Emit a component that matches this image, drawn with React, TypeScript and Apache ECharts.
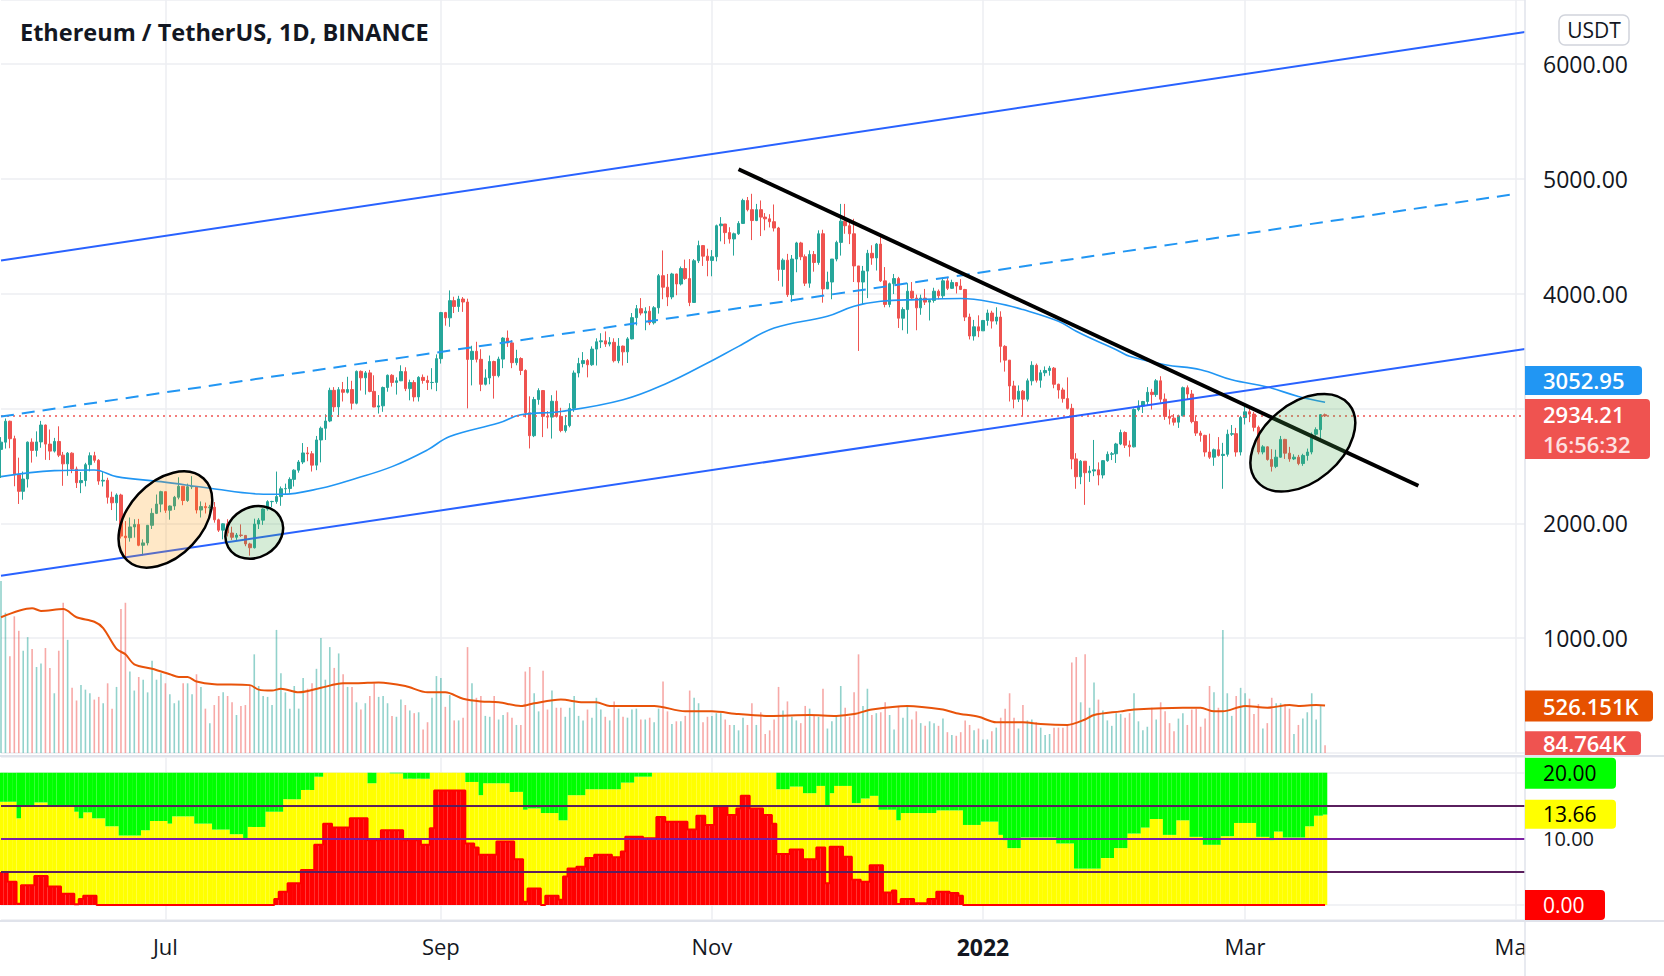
import React, { useEffect, useRef } from 'react';
import * as echarts from 'echarts';

// ---------- categories ----------
const START_UTC = Date.UTC(2021, 4, 25);
const CATEGORY_COUNT = 344; // May 25 2021 .. May 3 2022 (empty future on the right)
const MONTHS = ['Jan', 'Feb', 'Mar', 'Apr', 'May', 'Jun', 'Jul', 'Aug', 'Sep', 'Oct', 'Nov', 'Dec'];

// ---------- price data (ETH/USDT daily) ----------
const firstOpen = 2643;
const closes = [
  2706, 2888, 2736, 2422, 2278, 2385, 2706,
  2634, 2708, 2855, 2689, 2628, 2712, 2593, 2517, 2610, 2472, 2353, 2372, 2510, 2588, 2548, 2367, 2374, 2226, 2178, 2246, 1888, 1874, 1968, 1989, 1808, 1829, 1982, 2086, 2167, 2275,
  2113, 2150, 2226, 2322, 2198, 2318, 2320, 2115, 2145, 2135, 2140, 2030, 1940, 1995, 1915, 1878, 1897, 1894, 1820, 1787, 1993, 2027, 2124, 2188, 2190, 2232, 2300, 2302, 2382, 2462, 2533,
  2612, 2605, 2506, 2725, 2827, 2890, 3157, 3013, 3163, 3140, 3164, 3045, 3322, 3266, 3309, 3148, 3012, 3022, 3182, 3288, 3226, 3240, 3320, 3172, 3225, 3100, 3270, 3243, 3225, 3226, 3433,
  3834, 3788, 3938, 3887, 3952, 3926, 3426, 3497, 3427, 3210, 3265, 3408, 3285, 3429, 3612, 3570, 3398, 3434, 3330, 2962, 2762, 3077, 3155, 2931, 2924, 3062, 2930, 2807, 2850, 3000,
  3308, 3390, 3416, 3380, 3516, 3580, 3588, 3560, 3575, 3415, 3542, 3492, 3605, 3790, 3868, 3830, 3846, 3745, 3876, 4155, 4055, 3970, 4170, 4083, 4217, 4130, 3922, 4285, 4417, 4325, 4288,
  4320, 4590, 4605, 4530, 4475, 4520, 4610, 4810, 4730, 4635, 4730, 4665, 4650, 4625, 4570, 4210, 4290, 3990, 4300, 4440, 4320, 4090, 4340, 4270, 4520, 4040, 4100, 4300, 4445, 4630,
  4590, 4520, 4240, 4100, 4195, 4350, 4310, 4430, 4110, 3905, 4085, 4130, 3785, 3860, 4020, 3960, 3875, 3960, 3925, 3940, 4020, 3980, 4110, 4045, 4095, 4065, 4035, 3795, 3630, 3710, 3675,
  3765, 3830, 3760, 3795, 3540, 3420, 3195, 3080, 3150, 3080, 3240, 3375, 3245, 3310, 3330, 3350, 3210, 3160, 3085, 3000, 2560, 2405, 2540, 2440, 2455, 2465, 2420, 2545, 2600, 2605, 2690,
  2790, 2680, 2665, 2990, 3020, 3060, 3140, 3120, 3240, 3080, 2930, 2915, 2880, 2935, 3180, 3125, 2885, 2785, 2765, 2620, 2575, 2640, 2590, 2600, 2775, 2780, 2620, 2920,
  2970, 2950, 2835, 2620, 2665, 2555, 2495, 2575, 2730, 2610, 2560, 2575, 2520, 2590, 2620, 2775, 2815, 2945, 2934.21,
];
const highs = [
  2750, 2912, 2893, 2762, 2571, 2450, 2712,
  2739, 2800, 2891, 2859, 2816, 2743, 2844, 2621, 2620, 2618, 2493, 2446, 2526, 2617, 2622, 2558, 2445, 2396, 2275, 2260, 2257, 2019, 2050, 2035, 2038, 1860, 1985, 2130, 2250, 2283,
  2275, 2155, 2238, 2400, 2322, 2345, 2410, 2321, 2190, 2180, 2160, 2185, 2040, 2000, 2035, 1970, 1915, 1990, 1898, 1830, 2040, 2045, 2130, 2200, 2195, 2450, 2320, 2345, 2400, 2470, 2550,
  2698, 2664, 2628, 2760, 2842, 2948, 3180, 3185, 3185, 3230, 3275, 3240, 3330, 3330, 3325, 3335, 3288, 3116, 3190, 3295, 3298, 3270, 3375, 3358, 3250, 3245, 3280, 3295, 3285, 3350, 3470,
  3840, 3840, 4027, 3972, 3980, 3969, 3955, 3545, 3580, 3515, 3340, 3460, 3415, 3450, 3620, 3678, 3594, 3510, 3445, 3340, 3105, 3100, 3175, 3160, 2976, 3115, 3155, 3005, 2940, 3045,
  3330, 3440, 3490, 3430, 3540, 3610, 3654, 3670, 3620, 3610, 3612, 3547, 3620, 3830, 3900, 3960, 3880, 3890, 3890, 4170, 4375, 4170, 4180, 4172, 4235, 4295, 4300, 4300, 4460, 4420, 4390,
  4378, 4600, 4665, 4605, 4577, 4530, 4630, 4825, 4840, 4868, 4780, 4810, 4700, 4690, 4775, 4580, 4305, 4345, 4335, 4450, 4450, 4340, 4375, 4370, 4550, 4555, 4190, 4300, 4460, 4780,
  4780, 4635, 4650, 4240, 4240, 4380, 4420, 4440, 4490, 4230, 4095, 4170, 4145, 3880, 4090, 4100, 3990, 3990, 4040, 3950, 4050, 4035, 4140, 4145, 4120, 4100, 4125, 4040, 3825, 3770, 3810,
  3770, 3860, 3850, 3880, 3845, 3550, 3420, 3240, 3200, 3160, 3260, 3410, 3390, 3335, 3365, 3370, 3360, 3215, 3180, 3270, 3040, 2610, 2550, 2540, 2500, 2725, 2530, 2550, 2625, 2620, 2700,
  2815, 2800, 2720, 3000, 3070, 3065, 3185, 3170, 3255, 3280, 3130, 2990, 2950, 2945, 3190, 3200, 3160, 2930, 2805, 2770, 2780, 2650, 2750, 2700, 2815, 2855, 2830, 2935,
  3040, 3000, 2970, 2850, 2680, 2670, 2645, 2640, 2760, 2735, 2665, 2600, 2595, 2605, 2650, 2790, 2835, 2950, 2955,
];
const lows = [
  2394, 2650, 2653, 2322, 2168, 2205, 2311,
  2528, 2580, 2657, 2552, 2550, 2616, 2576, 2326, 2413, 2436, 2307, 2262, 2321, 2452, 2527, 2335, 2320, 2171, 2115, 2022, 1867, 1700, 1840, 1875, 1800, 1720, 1807, 1950, 2080, 2096,
  2090, 2031, 2116, 2208, 2157, 2186, 2297, 2085, 2050, 2085, 2090, 2005, 1924, 1860, 1885, 1855, 1855, 1880, 1800, 1718, 1780, 1950, 1986, 2110, 2140, 2170, 2152, 2255, 2265, 2320, 2440,
  2515, 2540, 2450, 2462, 2530, 2725, 2880, 2970, 2925, 3060, 3130, 2990, 3035, 3155, 3120, 3140, 3010, 2955, 2970, 3145, 3190, 3120, 3237, 3150, 3070, 3060, 3060, 3215, 3160, 3166, 3150,
  3390, 3720, 3710, 3830, 3840, 3840, 3000, 3200, 3400, 3150, 3200, 3210, 3085, 3270, 3350, 3535, 3350, 3375, 3290, 2920, 2651, 2750, 3032, 2750, 2825, 2737, 2920, 2792, 2790, 2835,
  2970, 3270, 3357, 3270, 3370, 3373, 3525, 3535, 3540, 3400, 3393, 3373, 3395, 3600, 3722, 3810, 3680, 3725, 3730, 3825, 3950, 3890, 3950, 3985, 4070, 4118, 3890, 3920, 4265, 4240, 4150,
  4150, 4280, 4454, 4430, 4435, 4330, 4510, 4605, 4715, 4465, 4630, 4500, 4550, 4575, 4540, 4110, 4060, 3970, 3925, 4185, 4290, 4065, 4050, 4190, 4250, 3920, 4040, 3950, 4280, 4330,
  4520, 4430, 4100, 3500, 3900, 3960, 4250, 4200, 4100, 3880, 3880, 3995, 3700, 3680, 3650, 3950, 3680, 3815, 3900, 3765, 3920, 3950, 3960, 4030, 4040, 4000, 4030, 3760, 3600, 3590, 3620,
  3680, 3720, 3695, 3730, 3400, 3320, 3060, 3000, 3055, 2930, 3060, 3200, 3225, 3180, 3280, 3285, 3175, 3085, 3050, 2990, 2470, 2300, 2340, 2160, 2360, 2410, 2330, 2390, 2535, 2550, 2525,
  2680, 2655, 2580, 2660, 2975, 2960, 3030, 2990, 3100, 3050, 2900, 2860, 2850, 2830, 2930, 3080, 2870, 2760, 2710, 2580, 2560, 2500, 2580, 2300, 2580, 2760, 2580, 2590,
  2860, 2880, 2800, 2600, 2600, 2545, 2450, 2480, 2570, 2560, 2535, 2550, 2505, 2500, 2545, 2600, 2760, 2730, 2925,
];

// ---------- volume (thousand ETH) ----------
const volumesK = [
  1900, 1550, 1070, 1510, 1350, 1130, 1280, 1150, 950, 990,
  1160, 940, 660, 1130, 1660, 1250, 720, 580, 750, 700,
  660, 590, 620, 550, 770, 490, 730, 1590, 1660, 900,
  690, 840, 810, 670, 1020, 810, 880, 770, 650, 550,
  580, 770, 770, 650, 870, 730, 490, 330, 530, 630,
  670, 630, 560, 420, 520, 530, 740, 1090, 740, 630,
  620, 530, 1360, 880, 670, 490, 740, 490, 830, 710,
  770, 930, 1270, 810, 1170, 940, 1100, 870, 730, 730,
  560, 480, 550, 630, 770, 620, 630, 550, 410, 400,
  590, 530, 470, 440, 450, 260, 340, 610, 850, 830,
  510, 640, 360, 360, 390, 1170, 770, 610, 630, 410,
  400, 630, 370, 420, 450, 390, 310, 310, 900, 950,
  660, 460, 910, 480, 690, 500,
  500, 400, 500, 630, 410, 360, 480, 390, 610, 480,
  400, 360, 570, 490, 400, 390, 480, 490, 370, 370,
  390, 340, 490, 790, 460, 320, 350, 350, 410, 690,
  610, 550, 340, 400, 410, 440, 440, 370, 310, 310,
  250, 390, 310, 550, 310, 450, 210, 250, 370, 730,
  470, 570, 400, 360, 330, 520, 490, 420, 400, 710,
  270, 350, 400, 740, 500, 400, 670, 1090, 520, 710,
  420, 440, 450, 560, 420, 260, 520, 390, 530, 370,
  460, 330, 300, 350, 330, 300, 380, 230, 200, 190,
  230, 360, 310, 250, 270, 150, 150, 240, 280, 390,
  490, 660, 390, 270, 530, 360, 370, 340, 280, 200,
  210, 280, 280, 280, 310, 1000, 1060, 560, 1090, 500,
  780, 590, 470, 360, 300, 440,
  430, 390, 440, 660, 350, 250, 290, 500, 370, 560,
  460, 330, 240, 380, 440, 310, 480, 490, 290, 380,
  740, 670, 500, 1360, 660, 410, 630, 720, 660, 600,
  430, 540, 270, 330, 610, 550, 550, 540, 490, 210,
  310, 380, 450, 660, 370, 530, 84.764,
];
// volume moving average, read at sample days: [dayIndex, thousand ETH]
const volumeMaSamples: [number, number][] = [
  [0, 1500], [7, 1600], [9, 1570], [14, 1590], [17, 1500], [21, 1450], [23, 1380], [26, 1150], [28, 1090],
  [30, 980], [34, 930], [38, 870], [40, 840], [42, 840], [44, 790], [48, 760], [56, 750], [58, 700], [61, 690],
  [63, 710], [67, 670], [72, 720], [77, 770], [80, 770], [85, 780], [91, 740], [96, 670], [100, 670], [104, 600],
  [108, 570], [112, 560], [117, 520], [120, 550], [126, 590], [131, 560], [134, 560], [137, 520], [147, 520],
  [154, 460], [160, 460], [166, 430], [173, 410], [182, 420], [188, 410], [192, 430], [196, 480], [204, 520],
  [212, 480], [215, 440], [220, 400], [224, 340], [230, 340], [234, 320], [240, 310], [244, 370], [246, 420],
  [252, 460], [255, 480], [266, 500], [270, 500], [273, 460], [275, 460], [280, 520], [285, 500], [290, 530],
  [292, 520], [296, 530], [298, 526.151],
];
// price moving average, read at sample days: [dayIndex, price]
const priceMaSamples: [number, number][] = [
  [0, 2406], [12, 2458], [21, 2464], [26, 2406], [36, 2362], [47, 2305], [58, 2255], [63, 2252], [72, 2305],
  [80, 2392], [88, 2493], [96, 2639], [101, 2755], [112, 2872], [117, 2944], [126, 2973], [140, 3075],
  [150, 3221], [159, 3395], [166, 3540], [174, 3700], [186, 3802], [192, 3889], [198, 3932], [206, 3947],
  [216, 3956], [224, 3918], [230, 3860], [238, 3758], [242, 3671], [246, 3598], [251, 3511], [254, 3453],
  [262, 3380], [270, 3337], [277, 3249], [285, 3186], [292, 3104], [298, 3052.95],
];

// ---------- drawn lines: [dayIndex, price] endpoints ----------
const upperChannel: [number, number][] = [[0, 4287], [343, 6276]];
const lowerChannel: [number, number][] = [[0, 1542], [343, 3516]];
const midChannel: [number, number][] = [[0, 2929], [340, 4862]];
const downTrend: [number, number][] = [[166, 5082], [319, 2326]];
const lastPrice = 2934.21;
const lastMa = 3052.95;
const lastVolMaK = 526.151;
const lastVolK = 84.764;
const countdown = '16:56:32';
// price ticks whose labels sit under the last-price tags (not shown in the reference)
const hiddenPriceTicks = [3000];

// ---------- lower indicator (0..20), run-length: [value, days] ----------
const yellowTopRuns: [number, number][] = [
  [15.6, 4], [13.1, 1], [14.9, 3], [15.5, 3], [14.9, 6], [14.1, 1], [13.1, 1], [14.0, 2], [13.1, 3], [11.9, 3],
  [10.5, 5], [11.3, 2], [12.7, 4], [12.3, 1], [13.4, 5], [12.3, 4], [11.4, 4], [10.7, 3], [10.1, 1], [11.8, 4],
  [14.1, 4], [16.0, 4], [17.4, 3], [19.4, 2], [20, 10], [18.4, 2], [20, 3], [19.9, 3], [19.1, 6], [20, 8],
  [18.6, 3], [16.6, 1], [18.4, 6], [17.1, 3], [14.4, 1], [14.6, 3], [13.9, 4], [12.8, 2], [16.6, 4], [17.5, 8],
  [18.5, 3], [19.4, 4], [20, 28], [17.5, 3], [17.9, 3], [16.9, 3], [18, 2], [15.1, 1], [16.9, 1], [18, 4],
  [15.4, 2], [16.1, 2], [16.5, 2], [14.4, 4], [12.8, 1], [13.9, 8], [14.3, 6], [12.1, 4], [12.6, 4], [10.6, 1],
  [9.8, 1], [8.6, 3], [10.2, 8], [9.3, 4], [5.5, 6], [7.1, 3], [8.6, 3], [10.8, 3], [11.7, 2], [13, 3],
  [10.6, 3], [12.8, 3], [10.3, 3], [9.1, 4], [10.4, 3], [12.4, 5], [10.3, 3], [9.8, 1], [11.1, 2], [10.2, 5],
  [11.9, 2], [13.5, 2], [13.66, 1],
];
const redTopRuns: [number, number][] = [
  [5, 2], [3.5, 2], [0.2, 1], [3, 3], [4.4, 3], [2.8, 3], [1.7, 3], [0.1, 1], [0.9, 1], [1.4, 3],
  [0, 40], [0.9, 1], [2, 2], [3.3, 3], [5.3, 3], [9.1, 2], [12.3, 2], [11.7, 4], [13.1, 4], [9.8, 3],
  [11.3, 5], [9.8, 4], [9.1, 2], [11.6, 1], [17.3, 7], [9.3, 2], [8.7, 1], [7.6, 4], [9.6, 4], [6.9, 2],
  [0.5, 1], [2.5, 3], [0, 1], [1.4, 3], [0.8, 1], [4.3, 1], [5.5, 2], [5.8, 2], [7.1, 2], [7.6, 4],
  [7.2, 2], [8.1, 1], [10.3, 4], [10.1, 3], [13.3, 2], [12.6, 5], [11.4, 2], [13.5, 2], [12.1, 2], [14.9, 3],
  [13.6, 2], [14.6, 1], [16.5, 2], [14.6, 3], [13.6, 2], [12.3, 1], [7.7, 3], [8.4, 3], [6.9, 3], [8.7, 2],
  [3.3, 1], [8.8, 3], [7.3, 2], [3.8, 2], [3.5, 2], [6, 3], [1.9, 2], [2.2, 1], [0.15, 1], [0.9, 3],
  [0.25, 3], [0.9, 2], [2, 3], [1.8, 2], [1.4, 1], [0, 82],
];
const indicatorMax = 20;
const indicatorLevels = [15, 10, 5];

// ---------- annotations: [dayIndex, price, rx, ry, rotationDeg, kind] ----------
const ellipses: [number, number, number, number, number, string][] = [
  [37, 2033, 56, 37, 47, 'orange'],
  [57, 1921, 30, 25, 30, 'green'],
  [293, 2701, 60, 39, 40, 'green'],
];

const UP = '#26a69a';
const DOWN = '#ef5350';
const GRID = '#eceef2';
const TXT = '#131722';
const AX_FONT = 'Open Sans';
const AX_SIZE = 23;
const LOW_SIZE = 20;
const TOPZ = 100;

function expandRuns(runs: [number, number][]) {
  const out: number[] = [];
  runs.forEach(([v, n]) => { for (let k = 0; k < n; k++) out.push(v); });
  return out;
}

function buildDates() {
  const out: string[] = [];
  for (let i = 0; i < CATEGORY_COUNT; i++) {
    out.push(new Date(START_UTC + i * 86400000).toISOString().slice(0, 10));
  }
  return out;
}

const dates = buildDates();
const isMonthTick = (v: string) => v.endsWith('-01') && parseInt(v.slice(5, 7), 10) % 2 === 1;

export default function App() {
  const ref = useRef<HTMLDivElement>(null);

  useEffect(() => {
    document.body.style.margin = '0';
    const chart = echarts.init(ref.current as HTMLDivElement, undefined, { renderer: 'svg', width: 1664, height: 976 });

    const opens = closes.map((c, i) => (i === 0 ? firstOpen : closes[i - 1]));
    const candles = closes.map((c, i) => {
      const o = opens[i];
      return [o, c, Math.min(lows[i], o, c), Math.max(highs[i], o, c)];
    });
    const volumeBars = volumesK.map((v, i) => ({
      value: v,
      itemStyle: { color: closes[i] >= opens[i] ? 'rgba(38,166,154,0.5)' : 'rgba(239,83,80,0.5)' },
    }));
    const yellowTop = expandRuns(yellowTopRuns);
    const redTop = expandRuns(redTopRuns);
    const yellowPart = yellowTop.map((y, i) => +(y - redTop[i]).toFixed(3));
    const greenPart = yellowTop.map((y) => +(indicatorMax - y).toFixed(3));
    const pair = (arr: [number, number][]) => arr.map(([i, v]) => [dates[i], v]);

    const xBase = {
      type: 'category' as const,
      data: dates,
      boundaryGap: false,
      axisLine: { show: false },
      axisTick: { show: false },
      splitLine: { show: true, interval: (i: number, v: string) => isMonthTick(v), lineStyle: { color: GRID, width: 1.5 } },
    };

    const option: any = {
      animation: false,
      backgroundColor: '#ffffff',
      textStyle: { fontFamily: AX_FONT },
      title: {
        text: 'Ethereum / TetherUS, 1D, BINANCE',
        left: 15,
        top: 15,
        textStyle: { fontFamily: AX_FONT, fontWeight: 'bold', fontSize: 23.5, color: TXT },
      },
      grid: [
        { left: 1, width: 1524, top: 0, height: 753 },
        { left: 1, width: 1524, top: 757, height: 163 },
      ],
      xAxis: [
        { ...xBase, gridIndex: 0, axisLabel: { show: false } },
        {
          ...xBase,
          gridIndex: 1,
          axisLabel: {
            show: true,
            interval: (i: number, v: string) => isMonthTick(v),
            formatter: (v: string) => {
              const m = parseInt(v.slice(5, 7), 10);
              return m === 1 ? `{b|${v.slice(0, 4)}}` : MONTHS[m - 1];
            },
            fontFamily: AX_FONT,
            fontSize: 22,
            color: TXT,
            margin: 15,
            rich: { b: { fontFamily: AX_FONT, fontSize: 23, fontWeight: 'bold', color: TXT } },
          },
        },
      ],
      yAxis: [
        {
          type: 'value', gridIndex: 0, position: 'right', min: 0, max: 6555, interval: 1000,
          axisLine: { show: false }, axisTick: { show: false },
          axisLabel: {
            formatter: (v: number) => (v > 0 && v % 1000 === 0 && hiddenPriceTicks.indexOf(v) < 0 ? v.toFixed(2) : ''),
            showMinLabel: false, showMaxLabel: false,
            fontFamily: AX_FONT, fontSize: AX_SIZE, color: TXT, margin: 18,
          },
          splitLine: { lineStyle: { color: GRID, width: 1.5 } },
        },
        { type: 'value', gridIndex: 0, min: 0, max: 8320, show: false, splitLine: { show: false } },
        {
          type: 'value', gridIndex: 1, position: 'right', min: -2.268, max: 22.373,
          axisLine: { show: false }, axisTick: { show: false },
          axisLabel: {
            formatter: (v: number) => (Math.abs(v - 10) < 1e-6 ? '10.00' : ''),
            showMinLabel: false, showMaxLabel: false,
            fontFamily: AX_FONT, fontSize: LOW_SIZE, lineHeight: 20, color: TXT, margin: 18,
          },
          splitLine: { lineStyle: { color: GRID, width: 1.5 } },
        },
      ],
      series: [
        {
          type: 'candlestick', xAxisIndex: 0, yAxisIndex: 0, data: candles, barWidth: 3, z: 3,
          itemStyle: { color: UP, color0: DOWN, borderColor: UP, borderColor0: DOWN, borderWidth: 1 },
          markLine: {
            silent: true, symbol: 'none', label: { show: false },
            lineStyle: { color: DOWN, type: [2, 4], width: 1.5 },
            data: [{ yAxis: lastPrice }],
          },
        },
        { type: 'bar', xAxisIndex: 0, yAxisIndex: 1, data: volumeBars, barWidth: 1.6, z: 1, silent: true },
        {
          type: 'line', xAxisIndex: 0, yAxisIndex: 1, data: pair(volumeMaSamples), smooth: 0.3, symbol: 'none',
          lineStyle: { color: '#e8530a', width: 2 }, z: 2, silent: true,
        },
        {
          type: 'line', xAxisIndex: 0, yAxisIndex: 0, data: pair(priceMaSamples), smooth: 0.4, symbol: 'none',
          lineStyle: { color: '#2196f3', width: 1.6 }, z: 4, silent: true,
        },
        {
          type: 'line', xAxisIndex: 0, yAxisIndex: 0, data: pair(upperChannel), symbol: 'none',
          lineStyle: { color: '#2962ff', width: 2 }, z: 5, silent: true,
        },
        {
          type: 'line', xAxisIndex: 0, yAxisIndex: 0, data: pair(lowerChannel), symbol: 'none',
          lineStyle: { color: '#2962ff', width: 2 }, z: 5, silent: true,
        },
        {
          type: 'line', xAxisIndex: 0, yAxisIndex: 0, data: pair(midChannel), symbol: 'none',
          lineStyle: { color: '#2196f3', width: 2, type: [13, 8] }, z: 5, silent: true,
        },
        {
          type: 'line', xAxisIndex: 0, yAxisIndex: 0, data: pair(downTrend), symbol: 'none',
          lineStyle: { color: '#000000', width: 4 }, z: 6, silent: true,
        },
        {
          type: 'bar', xAxisIndex: 1, yAxisIndex: 2, stack: 'ind', data: redTop, barCategoryGap: '0%',
          itemStyle: { color: '#ff0000' }, silent: true,
        },
        {
          type: 'bar', xAxisIndex: 1, yAxisIndex: 2, stack: 'ind', data: yellowPart, barCategoryGap: '0%',
          itemStyle: { color: '#ffff00' }, silent: true,
        },
        {
          type: 'bar', xAxisIndex: 1, yAxisIndex: 2, stack: 'ind', data: greenPart, barCategoryGap: '0%',
          itemStyle: { color: '#00ff00' }, silent: true,
          markLine: {
            silent: true, symbol: 'none', label: { show: false },
            data: indicatorLevels.map((lv) => ({
              yAxis: lv,
              lineStyle: { color: lv === 10 ? '#7b1fa2' : '#5a1f5e', width: 2, type: 'solid' },
            })),
          },
        },
        {
          type: 'line', xAxisIndex: 1, yAxisIndex: 2, data: redTop, step: 'middle', symbol: 'none',
          lineStyle: { color: '#ff0000', width: 2 }, z: 3, silent: true,
        },
      ],
    };

    chart.setOption(option);

    const yOf = (seriesIndex: number, v: number) => (chart.convertToPixel({ seriesIndex }, [0, v]) as number[])[1];
    const AXX = 1525;
    const box = (
      top: number, h: number, w: number, fill: string, lines: { t: string; c: string }[],
      bold = true, size = AX_SIZE - 1,
    ) => {
      const children: any[] = [
        { type: 'rect', z: TOPZ, shape: { x: AXX, y: top, width: w, height: h, r: [0, 4, 4, 0] }, style: { fill } },
      ];
      const lh = h / lines.length;
      lines.forEach((ln, k) => {
        children.push({
          type: 'text',
          z: TOPZ + 1,
          style: {
            x: AXX + 18, y: top + lh * (k + 0.5), text: ln.t, fill: ln.c,
            fontFamily: AX_FONT, fontSize: size, lineHeight: size, fontWeight: bold ? 600 : 'normal',
            align: 'left', verticalAlign: 'middle', textAlign: 'left', textVerticalAlign: 'middle',
          },
        });
      });
      return { type: 'group', z: TOPZ, children };
    };

    const yLast = yOf(0, lastPrice);
    const yVolMa = yOf(1, lastVolMaK);
    const yVol = yOf(1, lastVolK);
    const yInd20 = yOf(8, 20);
    const yIndYellow = yOf(8, yellowTop[yellowTop.length - 1]);
    const yInd0 = yOf(8, 0);

    const ellipseEls = ellipses.map(([i, p, rx, ry, rot, kind]) => {
      const pt = chart.convertToPixel({ seriesIndex: 0 }, [i, p]) as number[];
      return {
        type: 'ellipse',
        z: 50,
        x: pt[0], y: pt[1], rotation: (rot * Math.PI) / 180,
        shape: { cx: 0, cy: 0, rx, ry },
        style: {
          fill: kind === 'orange' ? 'rgba(255,152,0,0.22)' : 'rgba(76,175,80,0.23)',
          stroke: '#000000', lineWidth: 2.5,
        },
        silent: true,
      };
    });

    const graphic: any[] = [
      ...ellipseEls,
      { type: 'rect', z: TOPZ - 2, shape: { x: AXX + 1, y: 922, width: 140, height: 54 }, style: { fill: '#ffffff' }, silent: true },
      { type: 'line', z: TOPZ - 1, shape: { x1: 0, y1: 756, x2: 1664, y2: 756 }, style: { stroke: '#e0e3eb', lineWidth: 2 }, silent: true },
      { type: 'line', z: TOPZ - 1, shape: { x1: 0, y1: 921, x2: 1664, y2: 921 }, style: { stroke: '#e0e3eb', lineWidth: 2 }, silent: true },
      { type: 'line', z: TOPZ - 1, shape: { x1: AXX, y1: 0, x2: AXX, y2: 976 }, style: { stroke: '#e0e3eb', lineWidth: 1.5 }, silent: true },
      {
        type: 'group',
        z: TOPZ,
        children: [
          { type: 'rect', z: TOPZ, shape: { x: 1559, y: 15, width: 70, height: 30, r: 6 }, style: { fill: '#ffffff', stroke: '#d1d4dc', lineWidth: 1.5 } },
          {
            type: 'text',
            z: TOPZ + 1,
            style: {
              x: 1594, y: 30, text: 'USDT', fill: TXT, fontFamily: AX_FONT, fontSize: 21,
              align: 'center', verticalAlign: 'middle', textAlign: 'center', textVerticalAlign: 'middle',
            },
          },
        ],
      },
      box(yLast - 17 - 4 - 29, 29, 117, '#2196f3', [{ t: lastMa.toFixed(2), c: '#ffffff' }]),
      box(yLast - 17, 60, 125, '#ef5350', [{ t: lastPrice.toFixed(2), c: '#ffffff' }, { t: countdown, c: '#fde2e2' }]),
      box(yVolMa - 15, 31, 128, '#e65100', [{ t: `${lastVolMaK.toFixed(3)}K`, c: '#ffffff' }]),
      box(yVol - 14, 755 - (yVol - 14), 116, '#ef5350', [{ t: `${lastVolK.toFixed(3)}K`, c: '#ffffff' }]),
      box(yInd20 - 15, 31, 91, '#00ff00', [{ t: '20.00', c: '#000000' }], false, LOW_SIZE + 1),
      box(yIndYellow - 15, 29, 91, '#ffff00', [{ t: yellowTop[yellowTop.length - 1].toFixed(2), c: '#000000' }], false, LOW_SIZE + 1),
      box(yInd0 - 15, 30, 80, '#ff0000', [{ t: '0.00', c: '#ffffff' }], false, LOW_SIZE + 1),
    ];

    chart.setOption({ graphic });

    return () => chart.dispose();
  }, []);

  return <div ref={ref} style={{ position: 'absolute', left: 0, top: 0, width: 1664, height: 976 }} />;
}
